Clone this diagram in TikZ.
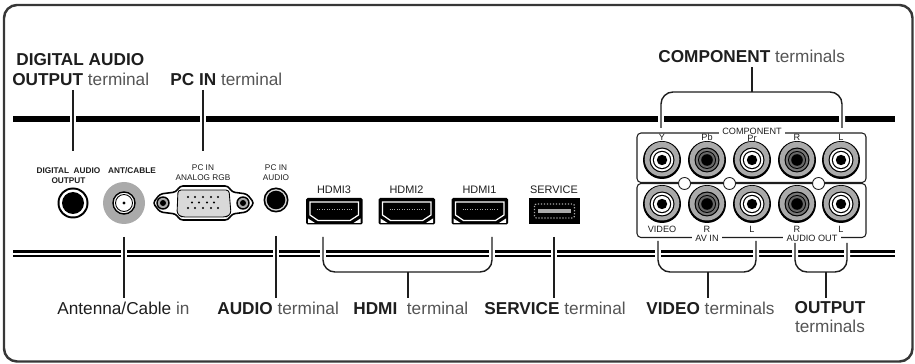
\documentclass[tikz,border=0pt]{standalone}
\usepackage{fontspec}
\setmainfont{Liberation Sans}
\definecolor{myink}{RGB}{30,30,30}
\definecolor{mythin}{RGB}{85,85,85}
\definecolor{myframe}{RGB}{55,55,55}
\definecolor{mygrey}{RGB}{170,170,170}
\tikzset{
  callout/.style={font=\fontsize{9.8}{11}\selectfont,text=myink,inner sep=0pt},
  tiny label/.style={font=\fontsize{4.7}{5.5}\selectfont,text=myink,inner sep=0pt,align=center},
  port label/.style={font=\fontsize{6.2}{7}\selectfont,text=myink,inner sep=0pt},
  panel label/.style={font=\fontsize{5.2}{6}\selectfont,text=myink,inner sep=0pt},
  lead/.style={line width=0.8pt,draw=myink},
  lead cut/.style={preaction={draw=white,line width=3.4pt},lead},
}
\begin{document}
\begin{tikzpicture}[x=0.02cm,y=-0.02cm]
\useasboundingbox (0,0) rectangle (915,364);

%The frame and the bands:
\draw[myframe,line width=1.4pt,rounded corners=0.26cm] (4,5) rectangle (912.5,361.5);
\fill[black] (13,116) rectangle (895,122);
\fill[black] (13,250.5) rectangle (895,253);
\fill[black] (13,255) rectangle (895,257.5);

%The texts above:
\node[callout,anchor=west] (digitaltext) at (16,60) {\textbf{DIGITAL AUDIO}};
\node[callout,anchor=west] (outputtext) at (12,79) {\textbf{OUTPUT} \textcolor{mythin}{terminal}};
\node[callout,anchor=west] (pcintext) at (170,79) {\textbf{PC IN} \textcolor{mythin}{terminal}};
\node[callout,anchor=west] (componenttext) at (658,56) {\textbf{COMPONENT} \textcolor{mythin}{terminals}};

%The texts below:
\node[callout,anchor=west] (antennatext) at (57,308) {Antenna/Cable \textcolor{mythin}{in}};
\node[callout,anchor=west] (audiotext) at (217,308) {\textbf{AUDIO} \textcolor{mythin}{terminal}};
\node[callout,anchor=west] (hdmitext) at (353,308) {\textbf{HDMI}\ \ \textcolor{mythin}{terminal}};
\node[callout,anchor=west] (servicetext) at (484,308) {\textbf{SERVICE} \textcolor{mythin}{terminal}};
\node[callout,anchor=west] (videotext) at (646,308) {\textbf{VIDEO} \textcolor{mythin}{terminals}};
\node[callout] (outtext) at (830,308) {\textbf{OUTPUT}};
\node[callout,text=mythin] (outtexttwo) at (830,326) {terminals};

%The free ends of the leaders:
\coordinate (Da) at (73,90);    \coordinate (Db) at (73,151);
\coordinate (Pa) at (203,90);   \coordinate (Pb) at (203,151);
\coordinate (Aa) at (124,237);  \coordinate (Ab) at (124,298);
\coordinate (Ua) at (276,236);  \coordinate (Ub) at (276,298);
\coordinate (Sa) at (554,237);  \coordinate (Sb) at (554,298);
\coordinate (Ha) at (323,237);  \coordinate (Hb) at (323,272);
\coordinate (Hc) at (492,272);  \coordinate (Hd) at (492,237);
\coordinate (He) at (408,272);  \coordinate (Hf) at (408,298);
\coordinate (Ca) at (661,128);  \coordinate (Cb) at (661,92);
\coordinate (Cc) at (842,92);   \coordinate (Cd) at (842,128);
\coordinate (Ce) at (752,92);   \coordinate (Cf) at (752,67);
\coordinate (Va) at (658,241);  \coordinate (Vb) at (658,272);
\coordinate (Vc) at (756,272);  \coordinate (Vd) at (756,241);
\coordinate (Ve) at (708,272);  \coordinate (Vf) at (708,298);
\coordinate (Oa) at (795,243);  \coordinate (Ob) at (795,272);
\coordinate (Oc) at (847,272);  \coordinate (Od) at (847,243);
\coordinate (Oe) at (826,272);  \coordinate (Of) at (826,298);

\draw[lead cut] (Da) -- (Db);
\draw[lead cut] (Pa) -- (Pb);
\draw[lead cut] (Aa) -- (Ab);
\draw[lead cut] (Ua) -- (Ub);
\draw[lead cut] (Sa) -- (Sb);
\draw[lead cut,rounded corners=0.24cm] (Ha) -- (Hb) -- (Hc) -- (Hd);
\draw[lead] (He) -- (Hf);
\draw[lead cut,rounded corners=0.24cm] (Ca) -- (Cb) -- (Cc) -- (Cd);
\draw[lead] (Ce) -- (Cf);
\draw[lead cut,rounded corners=0.24cm] (Va) -- (Vb) -- (Vc) -- (Vd);
\draw[lead] (Ve) -- (Vf);
\draw[lead cut,rounded corners=0.24cm] (Oa) -- (Ob) -- (Oc) -- (Od);
\draw[lead] (Oe) -- (Of);

%The left sockets:
\node[tiny label,font=\fontsize{4.7}{5.6}\selectfont\bfseries] (digitalport) at (68.5,176) {DIGITAL\ \ AUDIO\\OUTPUT};
\fill[black] (73,203) circle (15.5);
\fill[white] (73,203) circle (13.5);
\fill[black] (73,203) circle (11);
\node[tiny label,font=\fontsize{4.7}{5.6}\selectfont\bfseries] (antport) at (132,171) {ANT/CABLE};
\fill[mygrey] (124,203) circle (21);
\draw[black,fill=white,line width=0.8pt] (124,203) circle (11);
\draw[black,line width=0.5pt] (124,203) circle (8.5);
\fill[black] (124,203) circle (1.6);

\node[tiny label] (vgaport) at (203,172.5) {PC IN\\ANALOG RGB};
\draw[black,fill=white,line width=0.9pt,rounded corners=0.06cm] (153,203) -- (160,194) -- (176,192) -- (180,186) -- (228,186) -- (232,192) -- (247,194) -- (254,203) -- (247,212) -- (232,214) -- (228,220) -- (180,220) -- (176,214) -- (160,212) -- cycle;
\draw[black,fill=mygrey!45,line width=0.5pt,rounded corners=0.06cm] (178,190) -- (229,190) -- (231,214) -- (226,217) -- (182,217) -- (177,214) -- cycle;
\foreach \dotx in {188,195,203,211,218} {
  \fill[black] (\dotx,197) circle (1.2);
  \fill[black] (\dotx,208) circle (1.2);
}
\foreach \dotx in {192,199,207,214} {
  \fill[black] (\dotx,202.5) circle (1.2);
}
\foreach \screwx in {163,243} {
  \draw[black,fill=mygrey,line width=0.8pt] (\screwx,203) circle (6);
  \fill[black] (\screwx,203) circle (3);
}

\node[tiny label] (audioport) at (276,172.5) {PC IN\\AUDIO};
\fill[black] (276,200) circle (12.5);
\fill[mygrey!50] (276,200) circle (10.8);
\fill[black] (276,200) circle (9.3);

%The HDMI sockets:
\foreach \hdmix/\hdminame in {306/HDMI3,378.5/HDMI2,451.5/HDMI1} {
  \node[port label] (\hdminame) at (\hdmix+28,190) {\hdminame};
  \begin{scope}[shift={(\hdmix,198)}]
    \fill[black,rounded corners=0.03cm] (0,0) rectangle (56.5,26.5);
    \draw[white,line width=0.7pt] (4,4) -- (52.5,4) -- (52.5,17) -- (44,22.5) -- (12,22.5) -- (4,17) -- cycle;
    \draw[mygrey,densely dotted,line width=0.4pt] (11,11) -- (46,11);
    \fill[white] (2,25) -- (9,25) -- (2,20.5) -- cycle;
    \fill[white] (54.5,25) -- (47.5,25) -- (54.5,20.5) -- cycle;
  \end{scope}
}

%The service socket:
\node[port label] (serviceport) at (554,190) {SERVICE};
\fill[black] (529,198) rectangle (579.5,224.5);
\draw[mygrey,densely dotted,line width=0.7pt,rounded corners=0.04cm] (534.5,204) rectangle (574.5,218);
\fill[mygrey] (538,209) rectangle (571,213);

%The panel on the right:
\draw[myink,line width=0.6pt,rounded corners=0.08cm] (637,182.5) -- (637,133) -- (866,133) -- (866,182.5) -- cycle;
\draw[myink,line width=0.6pt,rounded corners=0.08cm] (637,183.5) -- (637,237.5) -- (866,237.5) -- (866,183.5) -- cycle;
\node[panel label,fill=white,inner xsep=2pt] (componentport) at (752,131.5) {COMPONENT};
\node[panel label,fill=white,inner xsep=2pt] (avinport) at (707,238) {AV IN};
\node[panel label,fill=white,inner xsep=2pt] (audiooutport) at (812,238) {AUDIO OUT};
\foreach \ringx in {684.5,729.5,818.5} {
  \draw[myink,fill=white,line width=0.5pt] (\ringx,183.5) circle (6);
}

\foreach \jackx/\jacky/\jackname/\jacktext in {662/137.5/Y/Y,707/137.5/Pb/Pb,752/138.5/Pr/Pr,797/137.5/Rtop/R,841/137.5/Ltop/L} {
  \node[panel label] (\jackname) at (\jackx,\jacky) {\jacktext};
}
\foreach \jackx/\jackname/\jacktext in {662/Video/VIDEO,707/Rin/R,752/Lin/L,797/Rout/R,841/Lout/L} {
  \node[panel label] (\jackname) at (\jackx,229) {\jacktext};
}

%Sockets with a white middle and with a dark middle:
\foreach \jackx/\jacky in {662/160,752/160,841/160,662/204,752/204,841/204} {
  \fill[black] (\jackx,\jacky) circle (19);
  \fill[mygrey] (\jackx,\jacky-0.8) circle (17.3);
  \fill[black] (\jackx,\jacky) circle (12.5);
  \fill[white] (\jackx,\jacky) circle (11.3);
  \fill[black] (\jackx,\jacky) circle (9.2);
  \fill[white] (\jackx,\jacky) circle (8);
  \fill[black] (\jackx,\jacky) circle (5.2);
}
\foreach \jackx/\jacky in {707/160,797/160,707/204,797/204} {
  \fill[black] (\jackx,\jacky) circle (19);
  \fill[mygrey] (\jackx,\jacky-0.8) circle (17.3);
  \fill[black] (\jackx,\jacky) circle (12.5);
  \fill[mygrey!70!black] (\jackx,\jacky) circle (11.3);
  \fill[black] (\jackx,\jacky) circle (9);
  \fill[mygrey!60!black] (\jackx,\jacky) circle (8);
  \fill[black] (\jackx,\jacky) circle (5.8);
}
\end{tikzpicture}
\end{document}
